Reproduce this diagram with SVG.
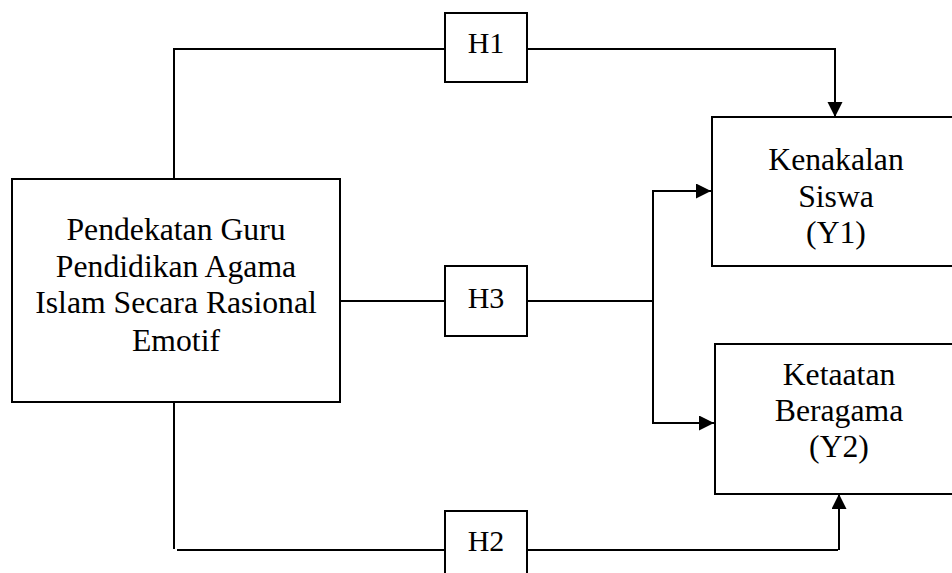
<svg xmlns="http://www.w3.org/2000/svg" width="952" height="573" viewBox="0 0 952 573">
<style>
.box{fill:#fff;stroke:#000;stroke-width:2}
.ln{fill:none;stroke:#000;stroke-width:2}
.t{font-family:"Liberation Serif","Times New Roman",serif;font-size:31.7px;fill:#000;text-anchor:middle}
.h{font-family:"Liberation Serif","Times New Roman",serif;font-size:30px;fill:#000;text-anchor:middle}
</style>
<defs>
<marker id="arr" markerUnits="userSpaceOnUse" markerWidth="16" markerHeight="16" refX="15" refY="7.5" orient="auto">
<path d="M0,0 L15,7.5 L0,15 z" fill="#000"/>
</marker>
</defs>
<rect width="952" height="573" fill="#fff"/>
<g id="connectors">
<polyline class="ln" points="174,179 174,49 445,49"/>
<polyline class="ln" points="527,49 835,49 835,117" marker-end="url(#arr)"/>
<line class="ln" x1="340" y1="301" x2="445" y2="301"/>
<line class="ln" x1="527" y1="301" x2="653" y2="301"/>
<line class="ln" x1="653" y1="190" x2="653" y2="424"/>
<line class="ln" x1="652" y1="191" x2="711" y2="191" marker-end="url(#arr)"/>
<line class="ln" x1="652" y1="423" x2="714" y2="423" marker-end="url(#arr)"/>
<line class="ln" x1="174" y1="402" x2="174" y2="549"/>
<line class="ln" x1="177" y1="550" x2="445" y2="550"/>
<line class="ln" x1="527" y1="550" x2="838" y2="550"/>
<line class="ln" x1="839" y1="550" x2="839" y2="494" marker-end="url(#arr)"/>
</g>
<g id="node-x">
<rect class="box" x="12" y="179" width="328" height="223"/>
<text class="t" x="176" y="240">Pendekatan Guru</text>
<text class="t" x="176" y="277">Pendidikan Agama</text>
<text class="t" x="176" y="313">Islam Secara Rasional</text>
<text class="t" x="176" y="351">Emotif</text>
</g>
<g id="node-h1">
<rect class="box" x="445" y="13" width="82" height="69"/>
<text class="h" x="486" y="53">H1</text>
</g>
<g id="node-h3">
<rect class="box" x="445" y="266" width="82" height="70"/>
<text class="h" x="486" y="308">H3</text>
</g>
<g id="node-h2">
<rect class="box" x="445" y="511" width="82" height="70"/>
<text class="h" x="486" y="551">H2</text>
</g>
<g id="node-y1">
<rect class="box" x="712" y="117" width="250" height="149"/>
<text class="t" x="836" y="170">Kenakalan</text>
<text class="t" x="836" y="207">Siswa</text>
<text class="t" x="836" y="243">(Y1)</text>
</g>
<g id="node-y2">
<rect class="box" x="715" y="344" width="250" height="150"/>
<text class="t" x="839" y="385">Ketaatan</text>
<text class="t" x="839" y="421">Beragama</text>
<text class="t" x="839" y="457">(Y2)</text>
</g>
</svg>
